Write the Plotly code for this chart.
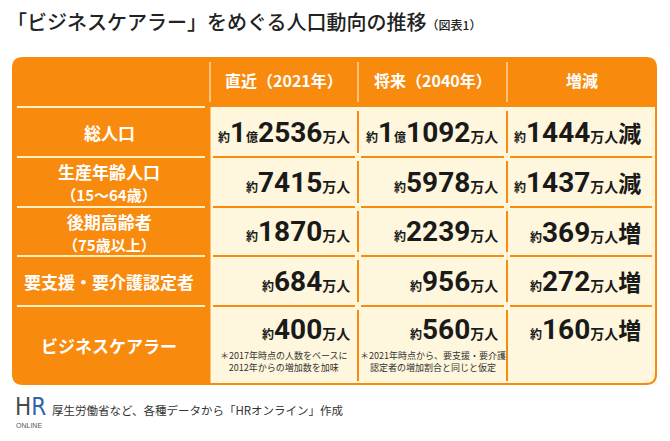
import plotly.graph_objects as go

# ---------------- data ----------------
headers = ["直近（2021年）", "将来（2040年）", "増減"]
categories = ["総人口", "生産年齢人口", "後期高齢者", "要支援・要介護認定者", "ビジネスケアラー"]
category_notes = ["", "（15～64歳）", "（75歳以上）", "", ""]
recent_2021 = [12536, 7415, 1870, 684, 400]   # 万人
future_2040 = [11092, 5978, 2239, 956, 560]   # 万人
change = [-1444, -1437, 369, 272, 160]        # 万人
footnotes_2021 = ["＊2017年時点の人数をベースに", "2012年からの増加数を加味"]
footnotes_2040 = ["＊2021年時点から、要支援・要介護", "認定者の増加割合と同じと仮定"]
title = "「ビジネスケアラー」をめぐる人口動向の推移"
title_suffix = "（図表1）"
source = "厚生労働省など、各種データから「HRオンライン」作成"

# ---------------- layout geometry ----------------
W, H = 670, 441
col_edges = [12, 210, 358, 507, 657]
row_edges = [57, 107, 157, 207, 256, 306, 385]
ORANGE = "#F88A0E"
CREAM = "#FFF7DD"
TEXT = "#1a1a1a"
JP = "Noto Sans CJK JP"
NUM = "Roboto"

def rounded_rect(x0, y0, x1, y1, r_tl=0, r_tr=0, r_br=0, r_bl=0):
    p = f"M {x0+r_tl},{y0} L {x1-r_tr},{y0} "
    p += f"Q {x1},{y0} {x1},{y0+r_tr} " if r_tr else ""
    p += f"L {x1},{y1-r_br} "
    p += f"Q {x1},{y1} {x1-r_br},{y1} " if r_br else ""
    p += f"L {x0+r_bl},{y1} "
    p += f"Q {x0},{y1} {x0},{y1-r_bl} " if r_bl else ""
    p += f"L {x0},{y0+r_tl} "
    p += f"Q {x0},{y0} {x0+r_tl},{y0} " if r_tl else ""
    return p + "Z"

shapes = []
# outer orange panel
shapes.append(dict(type="path", xref="x", yref="y", layer="below",
                   path=rounded_rect(col_edges[0], row_edges[0], col_edges[-1], row_edges[-1], 11, 11, 11, 11),
                   fillcolor=ORANGE, line=dict(width=0)))
# cream body
shapes.append(dict(type="path", xref="x", yref="y", layer="below",
                   path=rounded_rect(col_edges[1] + 0.5, row_edges[1], col_edges[-1] - 2, row_edges[-1] - 2, 0, 0, 9, 0),
                   fillcolor=CREAM, line=dict(width=0)))
# header dividers
for cx in col_edges[1:4]:
    shapes.append(dict(type="line", xref="x", yref="y", x0=cx, x1=cx,
                       y0=row_edges[0] + 5, y1=row_edges[1] - 5,
                       line=dict(color="rgba(255,240,210,0.85)", width=1.3)))
# white lines in label column
for ry in row_edges[1:-1]:
    shapes.append(dict(type="line", xref="x", yref="y", x0=col_edges[0] + 5, x1=col_edges[1] - 5,
                       y0=ry, y1=ry, line=dict(color="#FFF0C4", width=2)))
# orange grid lines in body
for ry in row_edges[2:-1]:
    for c in range(1, 4):
        x1 = col_edges[c + 1] - (5 if c == 3 else 3)
        shapes.append(dict(type="line", xref="x", yref="y", x0=col_edges[c] + 3, x1=x1,
                           y0=ry, y1=ry, line=dict(color=ORANGE, width=2)))
for cx in col_edges[2:4]:
    for r in range(1, 6):
        shapes.append(dict(type="line", xref="x", yref="y", x0=cx, x1=cx,
                           y0=row_edges[r] + 4, y1=row_edges[r + 1] - 4,
                           line=dict(color=ORANGE, width=2)))

def sp(txt, size, fam=None):
    st = f"font-size:{size}px"
    if fam:
        st += f";font-family:{fam}"
    return f"<span style='{st}'>{txt}</span>"

def fmt_value(v, sign=None):
    v = abs(v)
    oku, man = divmod(v, 10000)
    s = sp("約", 12)
    if oku:
        s += sp(str(oku), 28, NUM) + sp("億", 12)
    s += sp(str(man), 28, NUM) + sp("万人", 14)
    if sign:
        s += sp(sign, 23)
    return s

ann = []
# title
ann.append(dict(x=5, y=21, xref="x", yref="y", xanchor="left", yanchor="middle", showarrow=False,
                text=title + sp(title_suffix, 12),
                font=dict(family=JP, size=20, color="#222222", weight=500)))
# headers
for i, h in enumerate(headers):
    cx = (col_edges[i + 1] + col_edges[i + 2]) / 2
    ann.append(dict(x=cx, y=80, xref="x", yref="y", showarrow=False,
                    text=h, font=dict(family=JP, size=16, color="white", weight="bold")))
# row labels
for r, cat in enumerate(categories):
    cy = (row_edges[r + 1] + row_edges[r + 2]) / 2
    txt = cat if not category_notes[r] else cat + "<br>" + sp(category_notes[r], 15)
    ann.append(dict(x=109, y=cy, xref="x", yref="y", showarrow=False, text=txt,
                    align="center", font=dict(family=JP, size=17, color="white", weight="bold")))
# values
pads = [6, 7, 14]
for r in range(len(categories)):
    if r == 4:
        cy = 329
    else:
        cy = (row_edges[r + 1] + row_edges[r + 2]) / 2
    vals = [fmt_value(recent_2021[r]), fmt_value(future_2040[r]),
            fmt_value(change[r], "減" if change[r] < 0 else "増")]
    for c in range(3):
        ann.append(dict(x=col_edges[c + 2] - pads[c], y=cy, xref="x", yref="y", showarrow=False,
                        xanchor="right", yanchor="middle", yshift=0, text=vals[c],
                        font=dict(family=JP, size=14, color=TEXT, weight="bold")))
# footnotes
for c, notes in enumerate([footnotes_2021, footnotes_2040]):
    cx = (col_edges[c + 1] + col_edges[c + 2]) / 2
    ann.append(dict(x=cx, y=361, xref="x", yref="y", showarrow=False, align="center",
                    text="<br>".join(notes), font=dict(family=JP, size=9, color="#333333")))
# logo + source
ann.append(dict(x=13, y=407, xref="x", yref="y", xanchor="left", yanchor="middle", showarrow=False,
                text="<span style='color:#4a4a4a'>H</span><span style='color:#2C64B0'>R</span>",
                font=dict(family="Liberation Sans Narrow, DejaVu Sans Condensed, Liberation Sans", size=24)))
ann.append(dict(x=14, y=425, xref="x", yref="y", xanchor="left", yanchor="middle", showarrow=False,
                text="ONLINE", font=dict(family="Liberation Sans", size=7, color="#555555")))
ann.append(dict(x=50, y=410, xref="x", yref="y", xanchor="left", yanchor="middle", showarrow=False,
                text=source, font=dict(family=JP, size=11.5, color="#333333")))

fig = go.Figure()
fig.add_trace(go.Scatter(x=[0], y=[0], mode="markers", marker=dict(opacity=0),
                         hoverinfo="skip", showlegend=False))
fig.update_layout(
    width=W, height=H, margin=dict(l=0, r=0, t=0, b=0),
    paper_bgcolor="white", plot_bgcolor="white",
    xaxis=dict(range=[0, W], visible=False, fixedrange=True),
    yaxis=dict(range=[H, 0], visible=False, fixedrange=True),
    shapes=shapes, annotations=ann, showlegend=False,
)
fig.write_html("out.html", config={"displayModeBar": False},
               post_script="document.body.style.margin='0';document.body.style.overflow='hidden';")
